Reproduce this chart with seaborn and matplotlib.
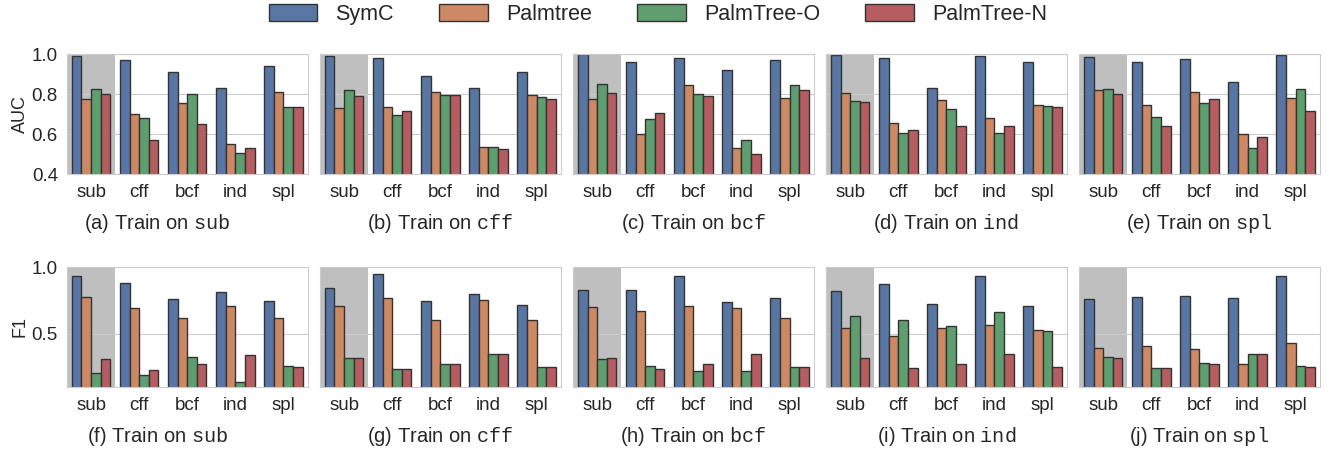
import numpy as np
import pandas as pd
import matplotlib.pyplot as plt
import seaborn as sns

# test sets (x axis) and train sets (one panel each)
test_sets = ['sub', 'cff', 'bcf', 'ind', 'spl']
train_sets = ['sub', 'cff', 'bcf', 'ind', 'spl']
models = ['SymC', 'Palmtree', 'PalmTree-O', 'PalmTree-N']

# AUC, rows = train set, cols = test set
auc_symc = [[0.99, 0.97, 0.91, 0.83, 0.94],
            [0.99, 0.98, 0.89, 0.83, 0.91],
            [1.00, 0.96, 0.98, 0.92, 0.97],
            [0.995, 0.98, 0.83, 0.99, 0.96],
            [0.985, 0.96, 0.975, 0.86, 0.995]]
auc_palmtree = [[0.775, 0.70, 0.755, 0.55, 0.81],
                [0.73, 0.735, 0.81, 0.535, 0.795],
                [0.775, 0.60, 0.845, 0.53, 0.78],
                [0.805, 0.655, 0.77, 0.68, 0.745],
                [0.82, 0.745, 0.81, 0.60, 0.78]]
auc_palmtree_o = [[0.825, 0.68, 0.80, 0.505, 0.735],
                  [0.82, 0.695, 0.795, 0.535, 0.785],
                  [0.85, 0.675, 0.80, 0.57, 0.845],
                  [0.765, 0.605, 0.725, 0.605, 0.74],
                  [0.825, 0.685, 0.755, 0.53, 0.825]]
auc_palmtree_n = [[0.80, 0.57, 0.65, 0.53, 0.735],
                  [0.79, 0.715, 0.795, 0.525, 0.775],
                  [0.805, 0.705, 0.79, 0.50, 0.82],
                  [0.76, 0.62, 0.64, 0.64, 0.735],
                  [0.80, 0.64, 0.775, 0.585, 0.715]]

# F1, rows = train set, cols = test set
f1_symc = [[0.93, 0.88, 0.76, 0.81, 0.745],
           [0.84, 0.945, 0.745, 0.80, 0.715],
           [0.83, 0.83, 0.935, 0.74, 0.77],
           [0.82, 0.87, 0.72, 0.93, 0.705],
           [0.76, 0.775, 0.78, 0.77, 0.93]]
f1_palmtree = [[0.775, 0.69, 0.62, 0.71, 0.615],
               [0.705, 0.77, 0.605, 0.755, 0.60],
               [0.70, 0.67, 0.705, 0.69, 0.615],
               [0.54, 0.48, 0.54, 0.565, 0.525],
               [0.39, 0.41, 0.385, 0.275, 0.43]]
f1_palmtree_o = [[0.205, 0.19, 0.325, 0.14, 0.255],
                 [0.315, 0.235, 0.275, 0.345, 0.25],
                 [0.31, 0.255, 0.22, 0.22, 0.25],
                 [0.635, 0.60, 0.56, 0.665, 0.52],
                 [0.325, 0.245, 0.28, 0.345, 0.255]]
f1_palmtree_n = [[0.31, 0.23, 0.27, 0.34, 0.25],
                 [0.315, 0.235, 0.275, 0.345, 0.25],
                 [0.315, 0.235, 0.275, 0.345, 0.25],
                 [0.315, 0.24, 0.275, 0.345, 0.25],
                 [0.315, 0.24, 0.275, 0.345, 0.25]]

letters = ['a', 'b', 'c', 'd', 'e', 'f', 'g', 'h', 'i', 'j']


def long_df(arrays, row):
    recs = []
    for name, arr in zip(models, arrays):
        for t, v in zip(test_sets, arr[row]):
            recs.append({'test': t, 'model': name, 'value': v})
    return pd.DataFrame(recs)


sns.set_style('whitegrid')
plt.rcParams['font.family'] = ['Liberation Sans', 'DejaVu Sans']
plt.rcParams['mathtext.fontset'] = 'custom'
plt.rcParams['mathtext.tt'] = 'Liberation Mono'
plt.rcParams['mathtext.rm'] = 'Liberation Sans'

fig = plt.figure(figsize=(13.29, 4.51), dpi=100)
gs = fig.add_gridspec(2, 5, left=0.0504, right=0.993, top=0.880, bottom=0.142,
                      hspace=0.775, wspace=0.052)

rows = [([auc_symc, auc_palmtree, auc_palmtree_o, auc_palmtree_n], 'AUC', (0.4, 1.0), [0.4, 0.6, 0.8, 1.0]),
        ([f1_symc, f1_palmtree, f1_palmtree_o, f1_palmtree_n], 'F1', (0.1, 1.0), [0.5, 1.0])]

handles = None
for r, (arrays, metric, ylim, yticks) in enumerate(rows):
    for c in range(5):
        ax = fig.add_subplot(gs[r, c])
        df = long_df(arrays, c)
        sns.barplot(data=df, x='test', y='value', hue='model', hue_order=models,
                    palette='deep', edgecolor='0.2', linewidth=1, ax=ax)
        ax.axvspan(-0.5, 0.5, color='#bfbfbf', zorder=0, lw=0)
        ax.set_xlim(-0.5, 4.5)
        ax.set_ylim(*ylim)
        ax.set_yticks(yticks)
        ax.set_xlabel('')
        ax.tick_params(axis='x', labelsize=13.5, pad=4)
        ax.tick_params(axis='y', labelsize=13.5, pad=3)
        if c == 0:
            ax.set_ylabel(metric, fontsize=13, labelpad=2)
        else:
            ax.set_ylabel('')
            ax.set_yticklabels([])
        if handles is None:
            handles, labels = ax.get_legend_handles_labels()
        ax.get_legend().remove()
        cx = 0.377 if c == 0 else 0.5
        ax.text(cx, -0.41, r'(%s) Train on $\mathtt{%s}$' % (letters[r * 5 + c], train_sets[c]),
                transform=ax.transAxes, ha='center', va='center', fontsize=14.5)

fig.legend(handles, labels, loc='center', bbox_to_anchor=(0.495, 0.968), ncol=4,
           frameon=False, fontsize=15.5, handlelength=2.25, handleheight=0.85,
           handletextpad=0.85, columnspacing=2.1)

fig.savefig('out.png', dpi=100)
